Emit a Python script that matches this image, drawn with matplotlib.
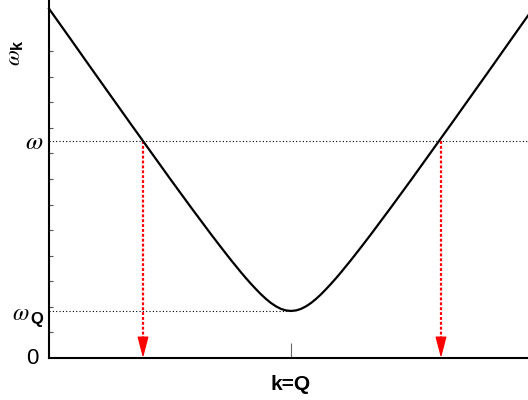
import matplotlib
matplotlib.use("Agg")
import matplotlib.pyplot as plt

plt.rcParams['mathtext.fontset'] = 'custom'
plt.rcParams['mathtext.it'] = 'STIXGeneral:italic'
plt.rcParams['mathtext.rm'] = 'STIXGeneral'
plt.rcParams['mathtext.bf'] = 'Liberation Sans:bold'
plt.rcParams['font.family'] = ['Liberation Sans', 'DejaVu Sans']

k_vals = [-2.42, -2.2, -2.0, -1.8, -1.6, -1.4, -1.2, -1.0, -0.8, -0.7, -0.6, -0.5,
          -0.45, -0.4, -0.35, -0.3, -0.25, -0.2, -0.15, -0.1, -0.05, 0.0,
          0.05, 0.1, 0.15, 0.2, 0.25, 0.3, 0.35, 0.4, 0.45, 0.5, 0.6, 0.7,
          0.8, 1.0, 1.2, 1.4, 1.6, 1.8, 2.0, 2.2, 2.37]
omega_vals = [13.66, 12.45, 11.34, 10.24, 9.14, 8.05, 6.96, 5.89, 4.84, 4.33, 3.83, 3.35,
              3.12, 2.90, 2.69, 2.49, 2.31, 2.15, 2.02, 1.92, 1.86, 1.84,
              1.86, 1.92, 2.02, 2.15, 2.31, 2.49, 2.69, 2.90, 3.12, 3.35, 3.83, 4.33,
              4.84, 5.89, 6.96, 8.05, 9.14, 10.24, 11.34, 12.45, 13.39]

omega_level = 8.48
omega_Q = 1.84
k_Q = 0.0
k_cross = [-1.48, 1.50]
x_range = [-2.42, 2.37]
y_range = [0, 14]
minor_yticks = [1, 2, 3, 4, 5, 6, 7, 8, 9, 10, 11, 12]
label_zero = '0'
label_omega = r'$\omega$'
label_omegaQ_base = r'$\omega$'
label_omegaQ_sub = 'Q'
xtick_label = 'k=Q'
ylabel = r'$\omega_{\mathbf{k}}$'

fig = plt.figure(figsize=(5.28, 4.0), dpi=100)
ax = fig.add_axes([49/528, 42/400, 479/528, 358/400])
ax.set_xlim(*x_range)
ax.set_ylim(*y_range)

for s in ['top', 'right']:
    ax.spines[s].set_visible(False)
for s in ['left', 'bottom']:
    ax.spines[s].set_linewidth(1.5)
    ax.spines[s].set_color('black')

# horizontal dotted guides
ax.axhline(omega_level, color='black', lw=0.8, ls=(0, (1, 2)), zorder=1)
ax.plot([x_range[0], k_Q], [omega_Q, omega_Q], color='black', lw=0.8, ls=(0, (1, 2)), zorder=1)

# curve
ax.plot(k_vals, omega_vals, color='black', lw=1.6, zorder=3, clip_on=False)

# red arrows
for kc in k_cross:
    ax.plot([kc, kc], [omega_level, 0.75], color='red', lw=1.6, ls=(0, (1.3, 0.9)), zorder=2)
    ax.annotate('', xy=(kc, 0.0), xytext=(kc, 0.8),
                arrowprops=dict(arrowstyle='-|>,head_length=13,head_width=3.4',
                                mutation_scale=1, color='red', lw=1.0,
                                shrinkA=0, shrinkB=0), zorder=2)

# y axis: minor ticks only, labels as texts next to the axis
ax.set_yticks([])
ax.set_yticks(minor_yticks, minor=True)
ax.tick_params(axis='y', which='minor', direction='in', length=3, width=0.8, color='#555555')

ycoords = ('axes fraction', 'data')
ax.annotate(label_zero, xy=(0, 0), xycoords=ycoords, xytext=(-7.9, -4.3),
            textcoords='offset points', ha='right', va='baseline', fontsize=16)
ax.annotate(label_omega, xy=(0, omega_level), xycoords=ycoords, xytext=(-4.3, -5.8),
            textcoords='offset points', ha='right', va='baseline', fontsize=18)
ax.annotate(label_omegaQ_base, xy=(0, omega_Q), xycoords=ycoords, xytext=(-14.0, -6.5),
            textcoords='offset points', ha='right', va='baseline', fontsize=17)
ax.annotate(label_omegaQ_sub, xy=(0, omega_Q), xycoords=ycoords, xytext=(-13.4, -9.6),
            textcoords='offset points', ha='left', va='baseline', fontsize=12,
            fontweight='bold')

ax.set_xticks([k_Q])
ax.set_xticklabels([xtick_label], fontsize=15, fontweight='bold')
ax.tick_params(axis='x', which='major', direction='in', length=11, width=0.8,
               color='#666666', pad=12)

ax.set_ylabel(ylabel, fontsize=16.5, rotation=90)
ax.yaxis.set_label_coords(-0.050, 0.853)

fig.savefig('out.png', dpi=100)
